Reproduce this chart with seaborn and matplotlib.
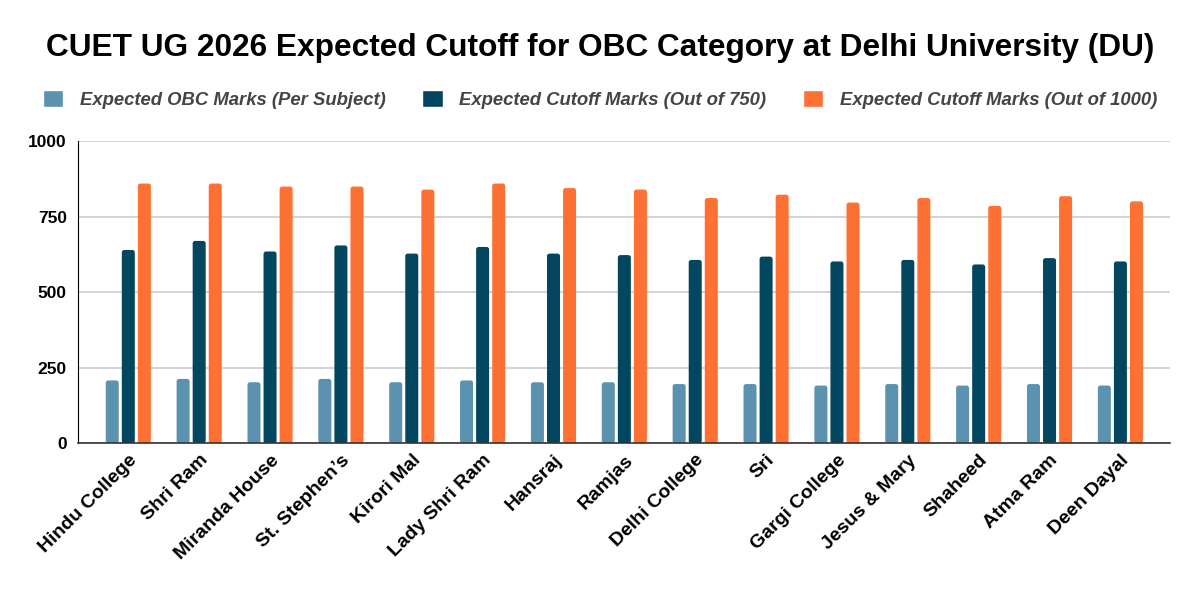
import pandas as pd
import matplotlib.pyplot as plt
import seaborn as sns
from matplotlib.patches import FancyBboxPatch

colleges = ["Hindu College", "Shri Ram", "Miranda House", "St. Stephen\u2019s", "Kirori Mal",
            "Lady Shri Ram", "Hansraj", "Ramjas", "Delhi College", "Sri", "Gargi College",
            "Jesus & Mary", "Shaheed", "Atma Ram", "Deen Dayal"]

obc_per_subject = [208, 213, 202, 213, 202, 208, 202, 202, 196, 196, 191, 196, 191, 196, 191]
cutoff_750 = [640, 670, 635, 655, 628, 650, 628, 623, 607, 618, 602, 607, 592, 613, 602]
cutoff_1000 = [860, 860, 850, 850, 840, 860, 845, 840, 812, 823, 797, 812, 786, 818, 801]

series_names = ["Expected OBC Marks (Per Subject)",
                "Expected Cutoff Marks (Out of 750)",
                "Expected Cutoff Marks (Out of 1000)"]
colores = ["#5a92b0", "#02465f", "#ff7133"]

# Tabla larga para seaborn
df = pd.DataFrame({
    "College": colleges * 3,
    "Marks": obc_per_subject + cutoff_750 + cutoff_1000,
    "Series": [series_names[0]] * 15 + [series_names[1]] * 15 + [series_names[2]] * 15,
})

sns.set_style("white")
plt.rcParams['font.family'] = ['Liberation Sans', 'DejaVu Sans']

fig = plt.figure(figsize=(12, 5.91), dpi=100)
ax = fig.add_axes([0.065, 0.250, 0.910, 0.511])

sns.barplot(data=df, x="College", y="Marks", hue="Series", palette=colores,
            width=0.68, gap=0.19, saturation=1, ax=ax, legend=True)

ax.set_ylim(0, 1000)
ax.set_yticks([0, 250, 500, 750, 1000])
ax.set_xlim(-0.71, len(colleges) - 0.3)
ax.yaxis.grid(True, color="#cccccc", linewidth=1.2)
ax.set_axisbelow(True)
ax.set_xlabel("")
ax.set_ylabel("")

handles, labels = ax.get_legend_handles_labels()
ax.get_legend().remove()

# Esquinas redondeadas en las barras
fig.canvas.draw()
bbox = ax.get_window_extent()
px_x = bbox.width / (ax.get_xlim()[1] - ax.get_xlim()[0])
px_y = bbox.height / (ax.get_ylim()[1] - ax.get_ylim()[0])
radio = 2.5 / px_x
for cont in ax.containers:
    for barra in list(cont):
        x, y, w, h = barra.get_x(), barra.get_y(), barra.get_width(), barra.get_height()
        color = barra.get_facecolor()
        barra.set_visible(False)
        ax.add_patch(FancyBboxPatch((x, y), w, h,
                                    boxstyle=f"round,pad=0,rounding_size={radio}",
                                    mutation_aspect=px_x / px_y,
                                    facecolor=color, edgecolor="none", zorder=2))

for lado in ["top", "right"]:
    ax.spines[lado].set_visible(False)
ax.spines["left"].set_color("#000000")
ax.spines["bottom"].set_color("#333333")
ax.spines["bottom"].set_linewidth(1.2)
ax.spines["bottom"].set_zorder(3)

ax.tick_params(axis="both", length=0, colors="black")
ax.tick_params(axis="y", pad=8)
ax.tick_params(axis="x", pad=6)
plt.setp(ax.get_yticklabels(), fontsize=12.5, fontweight="bold", color="black")
plt.setp(ax.get_xticklabels(), fontsize=14, fontweight="bold", rotation=45,
         ha="right", rotation_mode="anchor", color="black")

fig.legend(handles, labels, loc="center", bbox_to_anchor=(0.5, 0.832), ncol=3,
           frameon=False, handlelength=1.1, handleheight=1.1, columnspacing=2.0,
           handletextpad=0.9,
           prop={"size": 13.3, "weight": "bold", "style": "italic"}, labelcolor="#444444")

fig.text(0.5, 0.919, "CUET UG 2026 Expected Cutoff for OBC Category at Delhi University (DU)",
         ha="center", va="center", fontsize=22.8, fontweight="bold", color="black")

fig.savefig("out.png", dpi=100, facecolor="white")
